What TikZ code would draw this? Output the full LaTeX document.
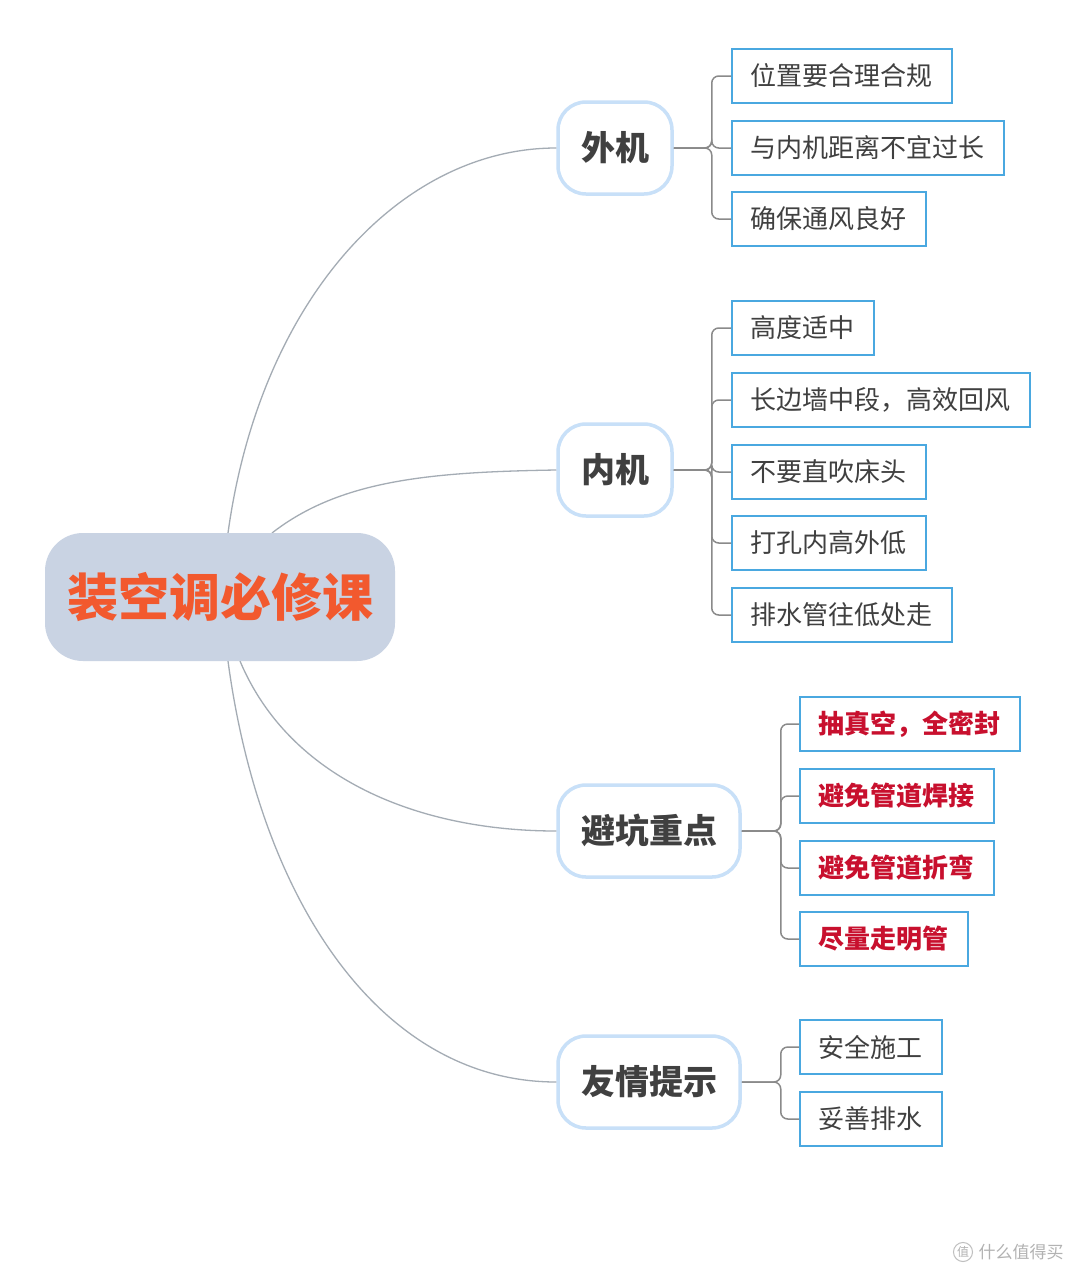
\documentclass[tikz,border=0pt]{standalone}
\usepackage{fontspec}
\setmainfont{Noto Sans CJK SC}
\begin{document}
\begin{tikzpicture}[x=1pt,y=-1pt,
  root/.style={fill=rootfill,rounded corners=38pt,minimum width=350pt,minimum height=128pt,text=rootred,font=\fontsize{51}{58}\selectfont\bfseries},
  br/.style={draw=bluebd,line width=3.5pt,fill=white,rounded corners=28pt,minimum height=92pt,text=txt,font=\fontsize{34}{40}\selectfont\bfseries,inner xsep=20pt},
  leaf/.style={draw=leafbd,line width=1.5pt,fill=white,anchor=west,minimum height=54pt,inner xsep=19pt,text=txt,font=\fontsize{26}{30}\selectfont},
  red/.style={text=warn,font=\fontsize{26}{30}\selectfont\bfseries},
  con/.style={draw=linegray,line width=1.3pt},
  brk/.style={draw=brgray,line width=1.5pt,rounded corners=7pt}]
\definecolor{rootfill}{HTML}{C9D3E3}
\definecolor{rootred}{HTML}{F2592E}
\definecolor{bluebd}{HTML}{C8E0F8}
\definecolor{leafbd}{HTML}{4AA8E0}
\definecolor{txt}{HTML}{404040}
\definecolor{warn}{HTML}{C8102E}
\definecolor{linegray}{HTML}{A4ACB4}
\definecolor{brgray}{HTML}{8A8A8A}
\useasboundingbox (0,0) rectangle (1080,1275);
\fill[white] (0,0) rectangle (1080,1275);

\coordinate (r1) at (228,533);
\coordinate (r2) at (272,533);
\coordinate (r3) at (240,661);
\coordinate (r4) at (228,661);

\node[br,minimum width=114pt] (wj) at (615,148) {外机};
\node[br,minimum width=114pt] (nj) at (615,470) {内机};
\node[br,minimum width=182pt] (bk) at (649,831) {避坑重点};
\node[br,minimum width=182pt] (yq) at (649,1082) {友情提示};

\draw[con] (r1) .. controls (260,300) and (400,148) .. (wj.west);
\draw[con] (r2) .. controls (340,480) and (430,472) .. (nj.west);
\draw[con] (r3) .. controls (290,780) and (420,831) .. (bk.west);
\draw[con] (r4) .. controls (260,900) and (380,1082) .. (yq.west);

\node[root] (root) at (220,597) {装空调必修课};

\node[leaf] (a1) at (731,76) {位置要合理合规};
\node[leaf] (a2) at (731,148) {与内机距离不宜过长};
\node[leaf] (a3) at (731,219) {确保通风良好};
\node[leaf] (b1) at (731,328) {高度适中};
\node[leaf] (b2) at (731,400) {长边墙中段，高效回风};
\node[leaf] (b3) at (731,472) {不要直吹床头};
\node[leaf] (b4) at (731,543) {打孔内高外低};
\node[leaf] (b5) at (731,615) {排水管往低处走};
\node[leaf,red] (c1) at (799,724) {抽真空，全密封};
\node[leaf,red] (c2) at (799,796) {避免管道焊接};
\node[leaf,red] (c3) at (799,868) {避免管道折弯};
\node[leaf,red] (c4) at (799,939) {尽量走明管};
\node[leaf] (d1) at (799,1047) {安全施工};
\node[leaf] (d2) at (799,1119) {妥善排水};

\foreach \l in {a1,a2,a3} \draw[brk] (wj.east) -- ++(38,0) |- (\l.west);
\foreach \l in {b1,b2,b3,b4,b5} \draw[brk] (nj.east) -- ++(38,0) |- (\l.west);
\foreach \l in {c1,c2,c3,c4} \draw[brk] (bk.east) -- ++(39,0) |- (\l.west);
\foreach \l in {d1,d2} \draw[brk] (yq.east) -- ++(39,0) |- (\l.west);

\node[draw=black!25,circle,line width=1pt,inner sep=1pt,text=black!30,font=\fontsize{12}{14}\selectfont] (wm1) at (963,1252) {值};
\node[anchor=west,text=black!30,font=\fontsize{17}{20}\selectfont] (wm2) at (975,1252) {什么值得买};
\end{tikzpicture}
\end{document}
